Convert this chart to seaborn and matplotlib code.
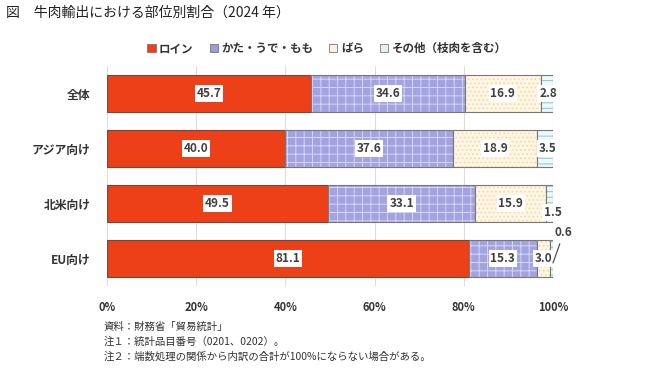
import matplotlib
matplotlib.use("Agg")
import matplotlib.pyplot as plt
import seaborn as sns
import numpy as np
from matplotlib.patches import Patch

sns.set_style("white")
plt.rcParams["font.family"] = ["Noto Sans CJK JP", "DejaVu Sans"]
plt.rcParams["hatch.linewidth"] = 0.7

regions = ["全体", "アジア向け", "北米向け", "EU向け"]
parts = ["ロイン", "かた・うで・もも", "ばら", "その他（枝肉を含む）"]
loin = [45.7, 40.0, 49.5, 81.1]
kata = [34.6, 37.6, 33.1, 15.3]
bara = [16.9, 18.9, 15.9, 3.0]
other = [2.8, 3.5, 1.5, 0.6]
ticks = [0, 20, 40, 60, 80, 100]

# face colour, hatch colour, hatch pattern per part
styles = [
    ("#EE4018", None, None),
    ("#A3A3E2", "#D6D6F4", "++"),
    ("#FFF6E4", "#F3D7A8", "...."),
    ("#EEF8FA", "#7FCAD8", "---"),
]
edge = "#777777"

fig = plt.figure(figsize=(6.5, 3.84), dpi=100)
ax = fig.add_axes([107 / 650, 0.255, 446 / 650, 0.573])

series = [loin, kata, bara, other]
left = np.zeros(len(regions))
for vals, (fc, hc, hp) in zip(series, styles):
    if hp is None:
        sns.barplot(x=vals, y=regions, orient="h", left=left, color=fc,
                    saturation=1, width=0.67, edgecolor="#6E4A40", linewidth=0.8, ax=ax)
    else:
        sns.barplot(x=vals, y=regions, orient="h", left=left, color=fc,
                    saturation=1, width=0.67, edgecolor=hc, linewidth=0,
                    hatch=hp, ax=ax)
        sns.barplot(x=vals, y=regions, orient="h", left=left, color=edge, fill=False,
                    saturation=1, width=0.67, edgecolor=edge, linewidth=0.8, ax=ax)
    left = left + np.array(vals)

# value labels for the three big parts
box = dict(boxstyle="square,pad=0.15", fc="white", ec="none")
starts = np.zeros(len(regions))
for vals in series[:3]:
    for i, v in enumerate(vals):
        if v >= 5:
            ax.text(starts[i] + v / 2, i, f"{v:.1f}", ha="center", va="center",
                    fontsize=8.5, fontweight="bold", color="#404040", bbox=box)
    starts = starts + np.array(vals)

# small values placed by hand
small = dict(fontsize=8.5, fontweight="bold", color="#404040", bbox=box)
ax.text(98.9, 0, f"{other[0]:.1f}", ha="center", va="center", **small)
ax.text(98.9, 1, f"{other[1]:.1f}", ha="center", va="center", **small)
ax.text(100.0, 2.16, f"{other[2]:.1f}", ha="center", va="center", **small)
ax.text(97.8, 3, f"{bara[3]:.1f}", ha="center", va="center", **small)
ax.annotate(f"{other[3]:.1f}", xy=(100.0, 3.08), xytext=(102.4, 2.53),
            ha="center", va="center", fontsize=8.5, fontweight="bold", color="#404040",
            arrowprops=dict(arrowstyle="-", color="#404040", lw=0.8, shrinkA=1, shrinkB=0))

ax.set_xlim(0, 100)
ax.set_ylim(3.5, -0.5)
ax.set_xticks(ticks)
ax.set_xticklabels([f"{t}%" for t in ticks])
ax.xaxis.grid(True, color="#DDDDDD", lw=0.8)
ax.set_axisbelow(True)
ax.set_xlabel("")
ax.set_ylabel("")
for s in ax.spines.values():
    s.set_visible(False)
ax.tick_params(axis="x", length=0, pad=11, labelsize=8, labelcolor="#333333")
ax.tick_params(axis="y", length=0, pad=12, labelsize=8.5, labelcolor="#333333")
for lab in ax.get_xticklabels() + ax.get_yticklabels():
    lab.set_fontweight("bold")

handles = [Patch(facecolor="#EE4018", edgecolor=edge, lw=0.6),
           Patch(facecolor="#9C9CD8", edgecolor=edge, lw=0.6),
           Patch(facecolor="#FFF3DD", edgecolor=edge, lw=0.6),
           Patch(facecolor="#E3F1F4", edgecolor=edge, lw=0.6)]
leg = fig.legend(handles, parts, loc="center", bbox_to_anchor=(0.503, 0.873), ncol=4,
                 frameon=False, fontsize=8.3, handlelength=0.7, handleheight=0.7,
                 handletextpad=0.3, columnspacing=1.4)
for t in leg.get_texts():
    t.set_fontweight("bold")
    t.set_color("#333333")

fig.text(6 / 650, 1 - 13 / 384, "図　牛肉輸出における部位別割合（2024 年）",
         fontsize=10, va="center", ha="left", color="#222222")
notes = ["資料：財務省「貿易統計」",
         "注１：統計品目番号（0201、0202）。",
         "注２：端数処理の関係から内訳の合計が100%にならない場合がある。"]
for k, n in enumerate(notes):
    fig.text(104 / 650, 1 - (327 + 15 * k) / 384, n, fontsize=7.5,
             va="center", ha="left", color="#333333")

fig.savefig("out.png", dpi=100)
